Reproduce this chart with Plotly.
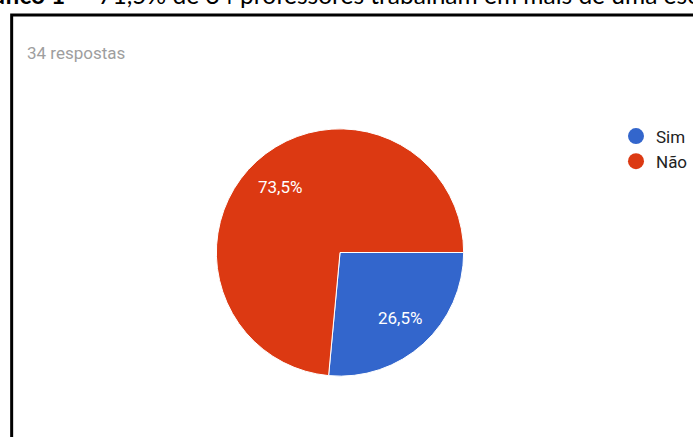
import math
import plotly.graph_objects as go

W, H = 693, 437

labels = ["Sim", "Não"]
values = [9, 25]
pct_text = ["26,5%", "73,5%"]
colors = ["#3366CC", "#DC3912"]

NB = "\u00a0"
title_text = ("<b>Gráfico 1</b> – " + NB +
              "71,5% de 34 professores trabalham em mais de uma escola")
subtitle = "34 respostas"


def px_x(x):
    return x / W


def px_y(y):
    return 1 - y / H


cx, cy, r = 341, 252.5, 124
start_angle = 90  # degrees clockwise from 12 o'clock

fig = go.Figure()
fig.add_trace(go.Pie(
    labels=labels, values=values,
    textinfo="none",
    marker=dict(colors=colors, line=dict(color="white", width=1)),
    sort=False, direction="clockwise", rotation=start_angle,
    showlegend=False, hoverinfo="label+percent",
    domain=dict(x=[px_x(cx - r), px_x(cx + r)], y=[px_y(cy + r), px_y(cy - r)]),
))

# slice labels placed at each slice's mid-angle (derived from the values)
total = sum(values)
acc = 0
for v, t in zip(values, pct_text):
    mid = start_angle + 360 * (acc + v / 2) / total
    acc += v
    a = math.radians(mid)
    lx = cx + 0.72 * r * math.sin(a)
    ly = cy - 0.72 * r * math.cos(a)
    fig.add_annotation(text=t, xref="paper", yref="paper", x=px_x(lx), y=px_y(ly),
                       xanchor="center", yanchor="middle", showarrow=False,
                       font=dict(family="Roboto", size=17, color="white"))

for lab, col in zip(labels, colors):
    fig.add_trace(go.Scatter(
        x=[None], y=[None], mode="markers", name=lab, legendgroup=lab,
        marker=dict(symbol="circle", size=17, color=col),
    ))

fig.add_shape(type="rect", xref="paper", yref="paper",
              x0=px_x(11.7), y0=px_y(15), x1=1.1, y1=-0.1,
              line=dict(color="black", width=3), fillcolor="rgba(0,0,0,0)")

fig.add_annotation(text=title_text, xref="paper", yref="paper",
                   x=px_x(-36), y=px_y(-5), xanchor="left", yanchor="middle",
                   showarrow=False, font=dict(family="Lato", size=24.5, color="black"))
fig.add_annotation(text=subtitle, xref="paper", yref="paper",
                   x=px_x(25), y=px_y(53), xanchor="left", yanchor="middle",
                   showarrow=False, font=dict(family="Roboto", size=17, color="#9E9E9E"))

fig.update_layout(
    width=W, height=H,
    margin=dict(l=0, r=0, t=0, b=0),
    paper_bgcolor="white", plot_bgcolor="white",
    xaxis=dict(visible=False), yaxis=dict(visible=False),
    legend=dict(x=px_x(618), y=px_y(118.5), xanchor="left", yanchor="top",
                font=dict(family="Roboto", size=17, color="#222222"),
                tracegroupgap=0, bgcolor="rgba(0,0,0,0)"),
)

fig.write_html("out.html", config={"displayModeBar": False},
               post_script="document.body.style.margin='0';document.body.style.overflow='hidden';")
